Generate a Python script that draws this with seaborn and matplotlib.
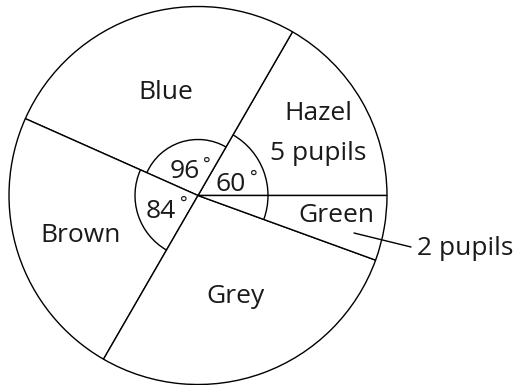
import numpy as np
import matplotlib.pyplot as plt
from matplotlib.patches import Arc
import seaborn as sns

# eye colours, anticlockwise from 3 o'clock, with the angles as drawn
colours = ["Hazel", "Blue", "Brown", "Grey", "Green"]
angles = [60, 96, 84, 100, 20]
angle_marks = ["60", "96", "84"]
pupil_notes = ["5 pupils", "2 pupils"]

sns.set_theme(style="white")
plt.rcParams['font.family'] = ['Open Sans', 'DejaVu Sans']

W, H = 516, 385
fig = plt.figure(figsize=(W / 100, H / 100), dpi=100)
ax = fig.add_axes([0, 0, 1, 1])

cx, cy, r = 198, H - 195.5, 189
wedges, _ = ax.pie(angles, startangle=0, counterclock=True,
                   colors=["white"] * len(angles), center=(cx, cy), radius=r,
                   wedgeprops=dict(edgecolor="black", linewidth=1.0))
for w in wedges:
    w.set_clip_on(False)

ax.set_xlim(0, W)
ax.set_ylim(0, H)
ax.set_aspect("equal")
ax.axis("off")

# angle arcs round the centre
edges = np.cumsum([0] + angles)
arcs = [(edges[4] - 360, edges[1], 70),   # hazel + green
        (edges[1], edges[2], 56),         # blue
        (edges[2], edges[3], 63)]         # brown
for t1, t2, rr in arcs:
    ax.add_patch(Arc((cx, cy), 2 * rr, 2 * rr, theta1=t1, theta2=t2,
                     color="black", lw=1.0))


def put(x, y, s, size=19, ha="center"):
    # x, y in pixels from the top-left corner, y is the baseline
    ax.text(x, H - y, s, fontsize=size, ha=ha, va="baseline", color="#1a1a1a")


put(166, 99.3, colours[1])
put(318, 120, colours[0])
put(318.5, 160, pupil_notes[0])
put(81, 242, colours[2])
put(235.5, 303.3, colours[3])
put(336, 221.5, colours[4])
put(465.5, 255, pupil_notes[1])

# angle values with a small raised degree sign
for s, (x, y), (dx, dy) in zip(angle_marks,
                               [(231, 191), (184.5, 177.5), (161, 218)],
                               [(253.5, 183), (207.3, 170), (184, 209)]):
    put(x, y, s)
    put(dx, dy, "°", size=13)

# leader line for the green sector
ax.plot([354, 411], [H - 233, H - 247], color="black", lw=1.0)

fig.savefig("out.png", dpi=100)
